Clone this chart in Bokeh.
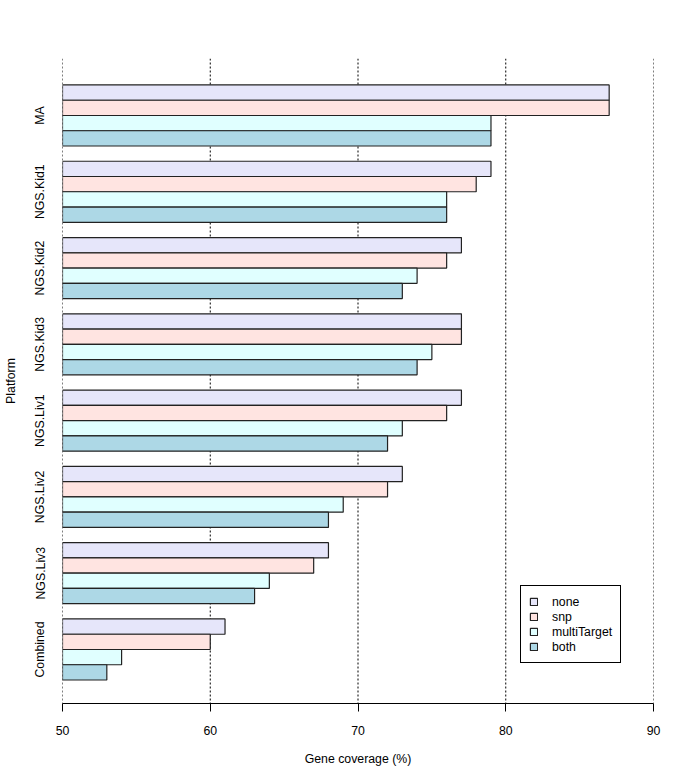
from bokeh.plotting import figure
from bokeh.models import ColumnDataSource, FixedTicker, Legend, LegendItem, Range1d, Span
from bokeh.transform import dodge
from bokeh.embed import file_html
from bokeh.resources import INLINE

platforms = ["MA", "NGS.Kid1", "NGS.Kid2", "NGS.Kid3", "NGS.Liv1", "NGS.Liv2", "NGS.Liv3", "Combined"]
none = [87, 79, 77, 77, 77, 73, 68, 61]
snp = [87, 78, 76, 77, 76, 72, 67, 60]
multiTarget = [79, 76, 74, 75, 73, 69, 64, 54]
both = [79, 76, 73, 74, 72, 68, 63, 53]
x_ticks = [50, 60, 70, 80, 90]

series = [("none", none, "#E6E6FA", 0.3),
          ("snp", snp, "#FFE4E1", 0.1),
          ("multiTarget", multiTarget, "#E0FFFF", -0.1),
          ("both", both, "#ADD8E6", -0.3)]

n = len(platforms)
ypos = [n - i for i in range(n)]  # MA at top

FONT = "Liberation Sans"

p = figure(frame_width=591, frame_height=645, output_backend="svg", toolbar_location=None,
           x_range=Range1d(x_ticks[0], x_ticks[-1]), y_range=Range1d(0.292, 8.747),
           min_border_left=56, min_border_top=58, min_border_right=22, min_border_bottom=62,
           background_fill_color="white", border_fill_color="white")
p.outline_line_color = None

# dotted gridlines (including the ones at the range edges)
p.ygrid.grid_line_color = None
p.xgrid.grid_line_color = None
for t in x_ticks:
    p.add_layout(Span(location=t, dimension="height", line_color="black",
                      line_dash="2 2", line_width=1, level="underlay"))

items = []
for name, vals, color, off in series:
    src = ColumnDataSource(dict(y=ypos, right=vals, left=[x_ticks[0]] * n))
    r = p.hbar(y=dodge("y", off), left="left", right="right", height=0.2, source=src,
               fill_color=color, line_color="#222222", line_width=1.2)
    items.append(LegendItem(label=name, renderers=[r]))

# x axis
p.xaxis.ticker = FixedTicker(ticks=x_ticks)
p.xaxis.axis_label = "Gene coverage (%)"
p.xaxis.axis_line_color = "black"
p.xaxis.axis_line_width = 1
p.xaxis.major_tick_line_color = "black"
p.xaxis.major_tick_out = 8
p.xaxis.major_tick_in = 0
p.xaxis.minor_tick_line_color = None
p.xaxis.major_label_standoff = 14
p.xaxis.axis_label_standoff = 14

# y axis
p.yaxis.ticker = FixedTicker(ticks=ypos)
p.yaxis.major_label_overrides = {y: lab for y, lab in zip(ypos, platforms)}
p.yaxis.major_label_orientation = "vertical"
p.yaxis.axis_label = "Platform"
p.yaxis.axis_line_color = None
p.yaxis.major_tick_line_color = None
p.yaxis.minor_tick_line_color = None
p.yaxis.major_tick_out = 0
p.yaxis.major_tick_in = 0
p.yaxis.major_label_standoff = 15
p.yaxis.axis_label_standoff = 13

for ax in (p.xaxis, p.yaxis):
    ax.major_label_text_font = FONT
    ax.major_label_text_font_size = "12.3px"
    ax.major_label_text_color = "black"
    ax.axis_label_text_font = FONT
    ax.axis_label_text_font_size = "12.3px"
    ax.axis_label_text_font_style = "normal"
    ax.axis_label_text_color = "black"

legend = Legend(items=items, location=(458, 40))
legend.border_line_color = "black"
legend.border_line_alpha = 1
legend.border_line_width = 1
legend.background_fill_color = "white"
legend.background_fill_alpha = 1
legend.label_text_font = FONT
legend.label_text_font_size = "12.3px"
legend.label_text_color = "black"
legend.label_height = 15
legend.glyph_height = 9
legend.glyph_width = 9
legend.label_standoff = 14
legend.padding = 8
legend.spacing = 0
legend.margin = 0
p.add_layout(legend, "center")

open("out.html", "w").write(file_html(p, INLINE))
